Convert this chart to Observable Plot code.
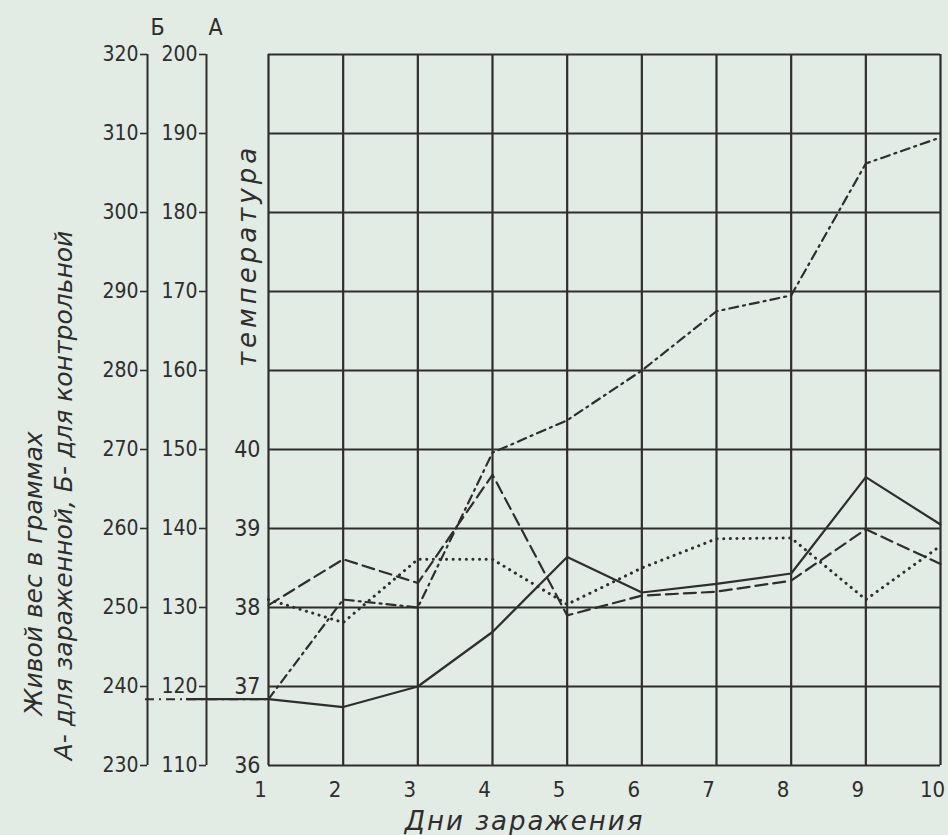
<!DOCTYPE html>
<html><head><meta charset="utf-8">
<script src="https://cdn.jsdelivr.net/npm/d3@7"></script>
<script src="https://cdn.jsdelivr.net/npm/@observablehq/plot@0.6"></script>
<style>
html,body{margin:0;padding:0;background:#e2ebe4;}
#chart{width:948px;height:835px;overflow:hidden;}
svg{display:block;}
</style></head><body><div id="chart"></div>
<script>
// Days of infection
const days = [1, 2, 3, 4, 5, 6, 7, 8, 9, 10];
const dayLabels = ["1", "2", "3", "4", "5", "6", "7", "8", "9", "10"];
// Live weight, g — A: infected (solid), Б: control (dash-dot)
const weightA = [118.4, 117.4, 120.0, 126.9, 136.4, 131.9, 133.0, 134.3, 146.5, 140.5];
const weightB = [238.4, 251.0, 250.0, 269.6, 273.7, 280.0, 287.5, 289.5, 306.2, 309.5];
// Temperature, °C — dashed and dotted
const tempDashed = [38.03, 38.61, 38.31, 39.68, 37.90, 38.15, 38.20, 38.34, 38.99, 38.55];
const tempDotted = [38.10, 37.81, 38.61, 38.61, 38.04, 38.50, 38.87, 38.88, 38.10, 38.78];
// Tick labels
const ticksA = [110, 120, 130, 140, 150, 160, 170, 180, 190, 200];
const ticksB = [230, 240, 250, 260, 270, 280, 290, 300, 310, 320];
const ticksTemp = [36, 37, 38, 39, 40];

// The three vertical scales share the same grid: Б = А + 120, 1 °C = 10 g from 36 °C = 110 g
const fromB = b => b - 120;
const fromT = t => 110 + (t - 36) * 10;

const rows = days.map((d, i) => ({day: d, a: weightA[i], b: weightB[i], td: tempDashed[i], tp: tempDotted[i]}));

const ink = "#2e2e2e";
const numFont = "'Liberation Sans Narrow', 'DejaVu Sans Condensed', sans-serif";
const titleFont = "'DejaVu Sans', 'Liberation Sans', sans-serif";
const offA = -62, offB = -121;

const chart = Plot.plot({
  width: 948, height: 835,
  marginLeft: 268, marginRight: 8, marginTop: 54, marginBottom: 70,
  style: {background: "transparent", color: ink, fontFamily: numFont, fontSize: "22px"},
  x: {domain: [1, 10], axis: null, label: null},
  y: {domain: [110, 200], axis: null, label: null},
  marks: [
    Plot.gridX(days, {stroke: ink, strokeOpacity: 1, strokeWidth: 2.2}),
    Plot.gridY(ticksA, {stroke: ink, strokeOpacity: 1, strokeWidth: 2.2}),
    Plot.axisX(days, {label: null, tickSize: 0, tickPadding: 16, dx: -8, fontSize: 22, fill: ink,
      tickFormat: d => dayLabels[days.indexOf(d)]}),
    // temperature axis on the grid edge
    Plot.axisY(ticksTemp.map(fromT), {label: null, anchor: "left", tickSize: 0, tickPadding: 8, fontSize: 23, fill: ink,
      tickFormat: d => String(ticksTemp[ticksTemp.map(fromT).indexOf(d)])}),
    // A axis
    Plot.ruleX([1], {y1: 110, y2: 200, dx: offA, stroke: ink, strokeWidth: 2}),
    Plot.axisY(ticksA, {label: null, anchor: "left", dx: offA, tickSize: 7, tickPadding: 2, fontSize: 21, fill: ink, stroke: ink, strokeWidth: 1.6,
      tickFormat: d => String(d)}),
    // Б axis
    Plot.ruleX([1], {y1: 110, y2: 200, dx: offB, stroke: ink, strokeWidth: 2}),
    Plot.axisY(ticksB.map(fromB), {label: null, anchor: "left", dx: offB, tickSize: 7, tickPadding: 2, fontSize: 21, fill: ink, stroke: ink, strokeWidth: 1.6,
      tickFormat: d => String(d + 120)}),
    // leader lines from the weight axes to day 1
    Plot.ruleY([fromB(weightB[0])], {x1: 1, x2: 1, insetLeft: offB - 2, stroke: ink, strokeWidth: 2, strokeDasharray: "9,5,2,5"}),
    Plot.ruleY([weightA[0]], {x1: 1, x2: 1, insetLeft: -82, stroke: ink, strokeWidth: 2.2}),
    // series
    Plot.line(rows, {x: "day", y: d => fromT(d.tp), stroke: ink, strokeWidth: 3, strokeDasharray: "0.1,6.5", strokeLinecap: "round"}),
    Plot.line(rows, {x: "day", y: d => fromT(d.td), stroke: ink, strokeWidth: 2.2, strokeDasharray: "12,6"}),
    Plot.line(rows, {x: "day", y: d => fromB(d.b), stroke: ink, strokeWidth: 2.2, strokeDasharray: "9,5,2,5"}),
    Plot.line(rows, {x: "day", y: "a", stroke: ink, strokeWidth: 2.2}),
    // axis letters
    Plot.text(["Б"], {text: d => d, frameAnchor: "top-left", textAnchor: "middle", lineAnchor: "middle", dx: -111, dy: -27, fontSize: 23, fill: ink, fontFamily: numFont}),
    Plot.text(["А"], {text: d => d, frameAnchor: "top-left", textAnchor: "middle", lineAnchor: "middle", dx: -53, dy: -27, fontSize: 23, fill: ink, fontFamily: numFont}),
    // titles
    Plot.text(["температура"], {text: d => d, frameAnchor: "top-left", textAnchor: "middle", dx: -31, dy: 201, rotate: -90, fontSize: 26, fontStyle: "italic", fill: ink, fontFamily: titleFont}),
    Plot.text(["Живой вес в граммах"], {text: d => d, frameAnchor: "top-left", textAnchor: "middle", dx: -244, dy: 519, rotate: -90, fontSize: 25, fontStyle: "italic", fill: ink, fontFamily: titleFont}),
    Plot.text(["А- для зараженной, Б- для контрольной"], {text: d => d, frameAnchor: "top-left", textAnchor: "middle", dx: -214, dy: 441, rotate: -90, fontSize: 25, fontStyle: "italic", fill: ink, fontFamily: titleFont}),
    Plot.text(["Дни заражения"], {text: d => d, frameAnchor: "bottom", textAnchor: "middle", lineAnchor: "middle", dx: -80, dy: 56, fontSize: 26, fontStyle: "italic", fill: ink, fontFamily: titleFont})
  ]
});
document.getElementById("chart").appendChild(chart);
const spacing = {"температура": "4px", "Дни заражения": "2px"};
d3.select(chart).selectAll("text").each(function () {
  const sp = spacing[this.textContent];
  if (sp) this.style.letterSpacing = sp;
});
</script></body></html>
